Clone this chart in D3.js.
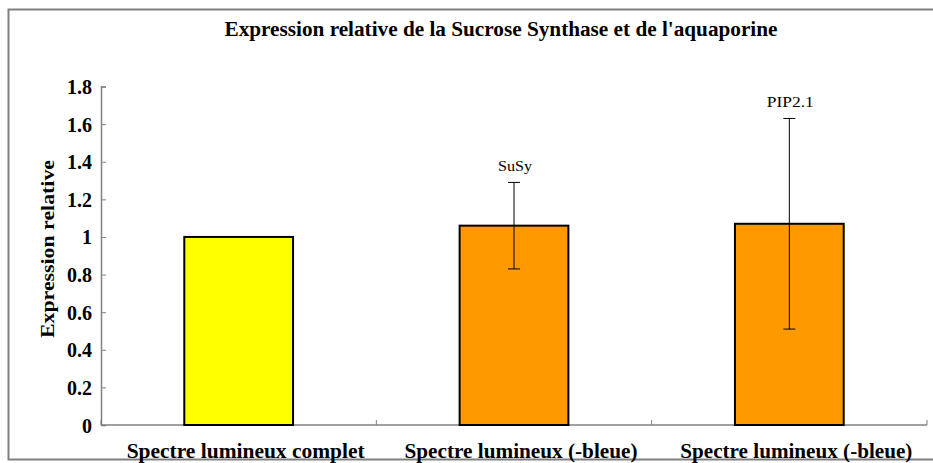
<!DOCTYPE html>
<html>
<head>
<meta charset="utf-8">
<script src="https://cdn.jsdelivr.net/npm/d3@7"></script>
<style>
  body { margin: 0; background: #fff; }
  text { font-family: "Liberation Serif", "Times New Roman", serif; }
</style>
</head>
<body>
<div id="chart"></div>
<script>
var categories = ["Spectre lumineux complet", "Spectre lumineux (-bleue)", "Spectre lumineux (-bleue)"]
var values = [1.0, 1.06, 1.07]
var errLow = [null, 0.83, 0.51]
var errHigh = [null, 1.29, 1.63]
var barLabels = ["", "SuSy", "PIP2.1"]
var colors = ["#ffff00", "#ff9900", "#ff9900"]
var yTicks = [0, 0.2, 0.4, 0.6, 0.8, 1, 1.2, 1.4, 1.6, 1.8]

var width = 933,
  height = 463

var svg = d3.select("#chart")
  .append("svg")
  .attr("width", width)
  .attr("height", height)

// outer frame
svg.append("rect")
  .attr("x", 8.5)
  .attr("y", 9.5)
  .attr("width", 940)
  .attr("height", 450)
  .attr("fill", "none")
  .attr("stroke", "#808080")
  .attr("stroke-width", 2)

svg.append("text")
  .attr("x", 501)
  .attr("y", 36)
  .attr("text-anchor", "middle")
  .attr("textLength", 553)
  .attr("lengthAdjust", "spacingAndGlyphs")
  .style("font-size", "20px")
  .style("font-weight", "bold")
  .text("Expression relative de la Sucrose Synthase et de l'aquaporine")

var x = d3.scaleBand()
  .domain(d3.range(categories.length))
  .range([101, 927])

var y = d3.scaleLinear()
  .domain([0, 1.8])
  .range([425, 86.5])

var barW = x.bandwidth() * 0.395

// y axis
var yAxis = svg.append("g")
  .attr("transform", "translate(101,0)")
  .call(d3.axisRight(y).tickValues(yTicks).tickSize(5).tickFormat(function (d) { return d }))
yAxis.select(".domain").attr("stroke", "#808080").attr("stroke-width", 1.5)
yAxis.selectAll(".tick line").attr("stroke", "#808080")
yAxis.selectAll(".tick text")
  .attr("x", -9)
  .attr("dy", "0.35em")
  .attr("text-anchor", "end")
  .style("font-size", "20px")
  .style("font-weight", "bold")
  .style("font-family", "'Liberation Serif', serif")
  .attr("fill", "#000")

// x axis
svg.append("line")
  .attr("x1", 101).attr("x2", 927)
  .attr("y1", 425).attr("y2", 425)
  .attr("stroke", "#808080")
  .attr("stroke-width", 1.5)

svg.selectAll(".xtick")
  .data(d3.range(categories.length + 1))
  .enter()
  .append("line")
  .attr("x1", function (d) { return 101 + d * x.step() })
  .attr("x2", function (d) { return 101 + d * x.step() })
  .attr("y1", 425)
  .attr("y2", 420)
  .attr("stroke", "#808080")

var labelLen = [238, 233, 232]
svg.selectAll(".xlabel")
  .data(categories)
  .enter()
  .append("text")
  .attr("x", function (d, i) { return x(i) + x.bandwidth() / 2 + 7 })
  .attr("y", 458)
  .attr("text-anchor", "middle")
  .attr("textLength", function (d, i) { return labelLen[i] })
  .attr("lengthAdjust", "spacingAndGlyphs")
  .style("font-size", "20px")
  .style("font-weight", "bold")
  .text(function (d) { return d })

svg.append("text")
  .attr("transform", "translate(54,249) rotate(-90)")
  .attr("text-anchor", "middle")
  .attr("textLength", 178)
  .attr("lengthAdjust", "spacingAndGlyphs")
  .style("font-size", "19px")
  .style("font-weight", "bold")
  .text("Expression relative")

// bars
svg.selectAll(".bar")
  .data(values)
  .enter()
  .append("rect")
  .attr("x", function (d, i) { return x(i) + x.bandwidth() / 2 - barW / 2 })
  .attr("y", function (d) { return y(d) })
  .attr("width", barW)
  .attr("height", function (d) { return y(0) - y(d) })
  .attr("fill", function (d, i) { return colors[i] })
  .attr("stroke", "#000")
  .attr("stroke-width", 2)

// error bars
var labelW = [0, 34, 47]
values.forEach(function (v, i) {
  if (errLow[i] == null) return
  var cx = x(i) + x.bandwidth() / 2
  var g = svg.append("g").attr("stroke", "#000").attr("stroke-width", 1)
  g.append("line").attr("x1", cx).attr("x2", cx).attr("y1", y(errLow[i])).attr("y2", y(errHigh[i]))
  g.append("line").attr("x1", cx - 6).attr("x2", cx + 6).attr("y1", y(errLow[i])).attr("y2", y(errLow[i]))
  g.append("line").attr("x1", cx - 6).attr("x2", cx + 6).attr("y1", y(errHigh[i])).attr("y2", y(errHigh[i]))
  svg.append("text")
    .attr("x", cx + 1)
    .attr("y", y(errHigh[i]) - 11)
    .attr("text-anchor", "middle")
    .attr("textLength", labelW[i])
    .attr("lengthAdjust", "spacingAndGlyphs")
    .style("font-size", "15px")
    .text(barLabels[i])
})
</script>
</body>
</html>
